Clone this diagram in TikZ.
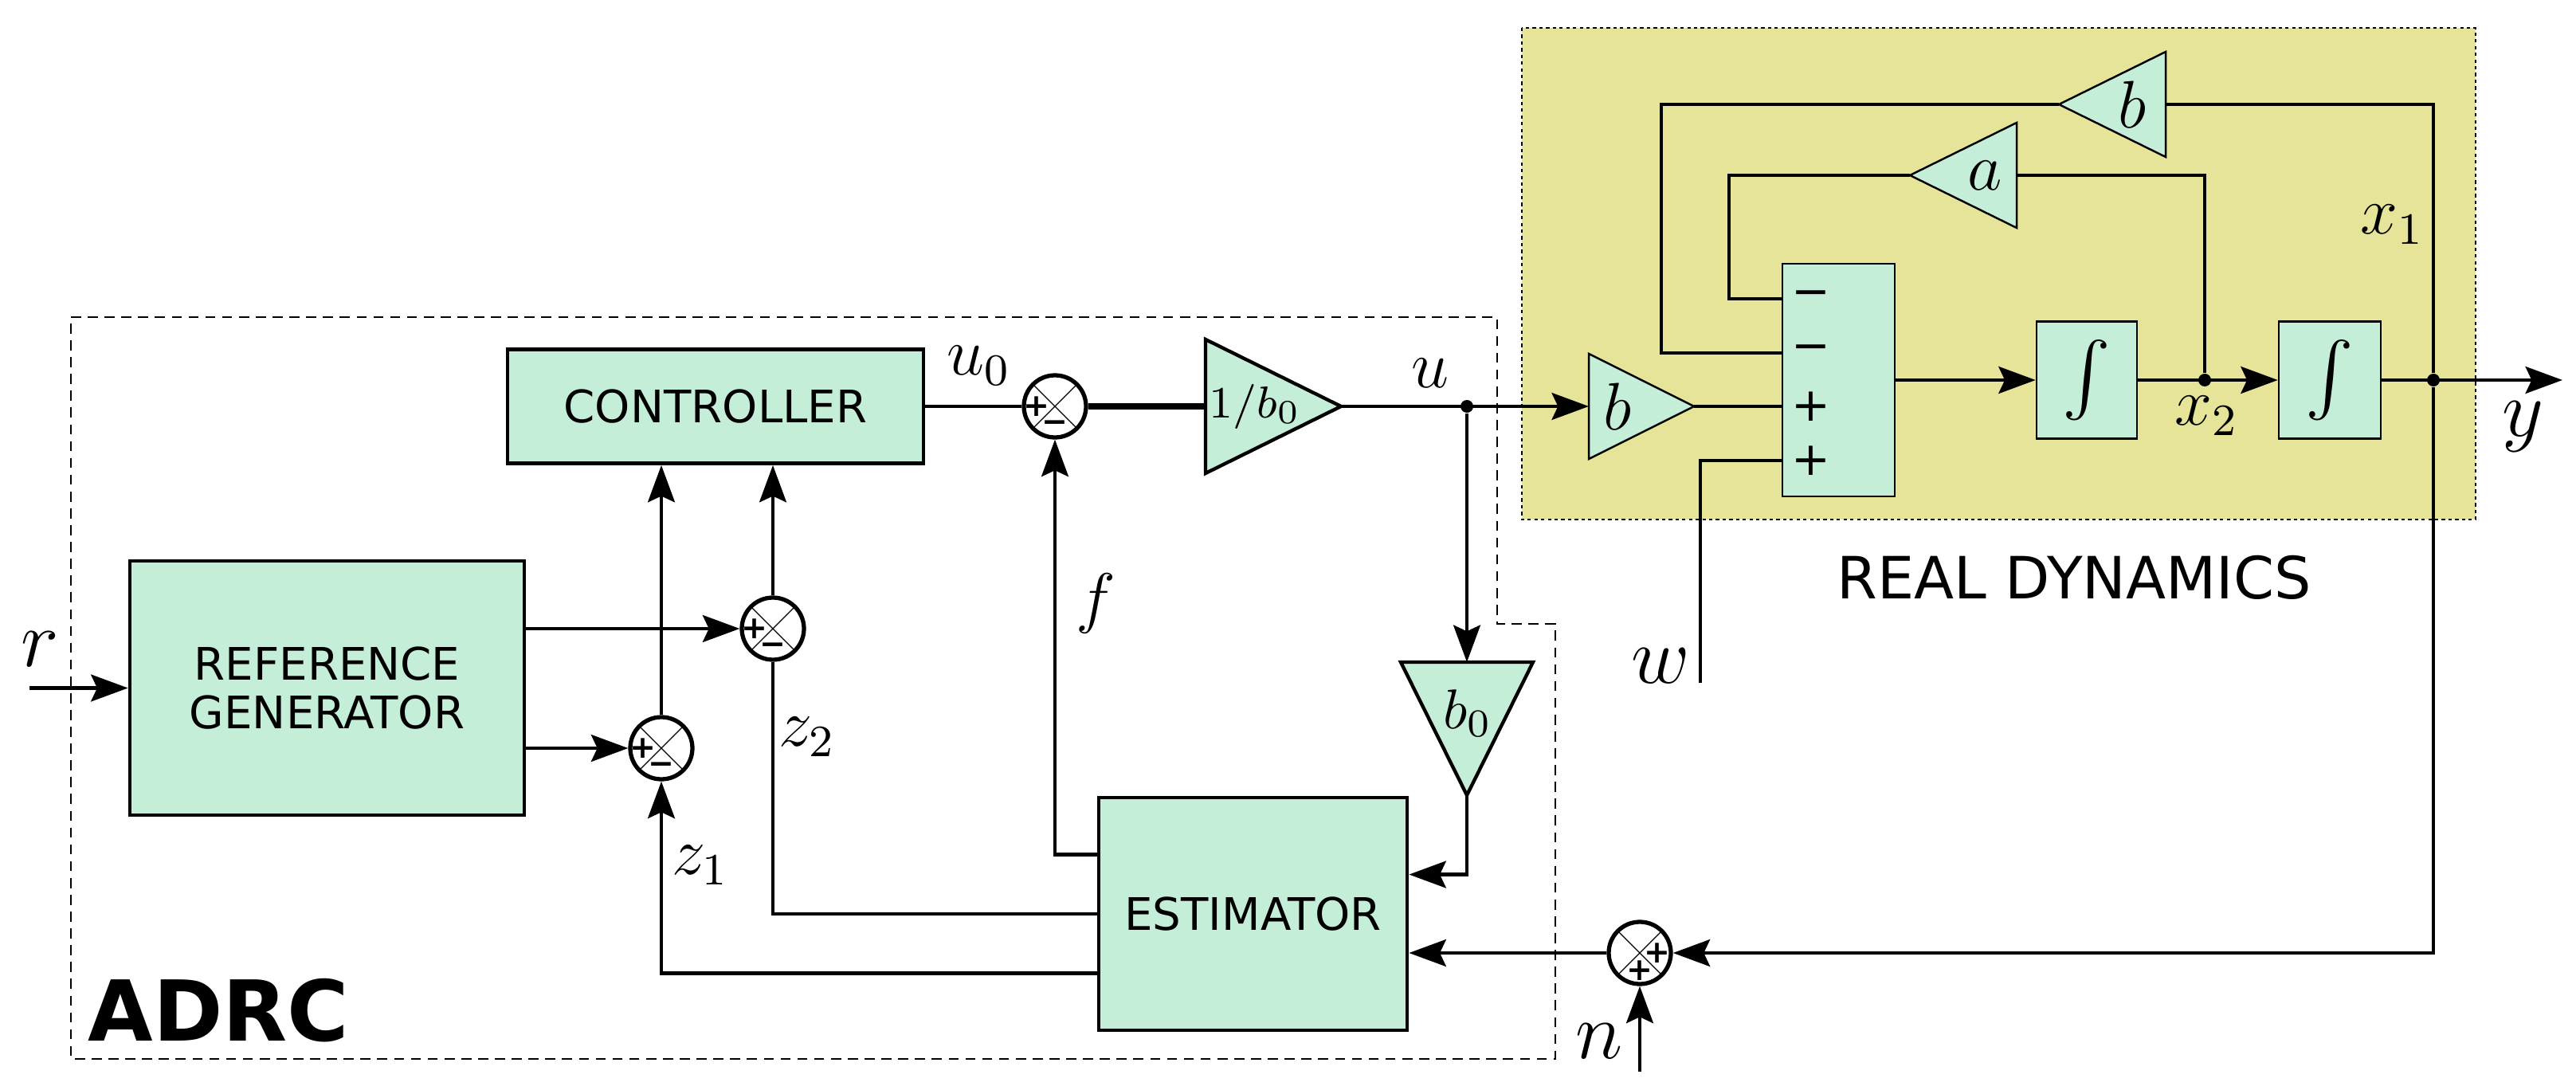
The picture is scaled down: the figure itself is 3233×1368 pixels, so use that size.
\documentclass[tikz,border=0pt]{standalone}
\usepackage{amsmath}
\usepackage{amssymb}
\usepackage{fontspec}
\setsansfont{DejaVu Sans}
\usepackage{xcolor}
\usetikzlibrary{arrows.meta,calc}
\definecolor{blkgreen}{RGB}{196,238,216}
\definecolor{plantyellow}{RGB}{230,228,152}
\tikzset{
  sig/.style={line width=0.67pt},
  arr/.style={sig,-{Stealth[length=6.6pt,width=4.8pt,inset=1.1pt]}},
  blk/.style={draw,line width=0.67pt,fill=blkgreen,inner sep=0pt,align=center,
    font=\sffamily\fontsize{8}{8.8}\selectfont},
  pblk/.style={blk,line width=0.35pt},
  gain/.style={draw,line width=0.62pt,fill=blkgreen,line join=miter},
  pgain/.style={gain,line width=0.35pt},
  sumc/.style={draw,circle,line width=0.75pt,fill=white,minimum size=3.9mm,inner sep=0pt,
    path picture={\draw[line width=0.17pt]
      (path picture bounding box.north west) -- (path picture bounding box.south east)
      (path picture bounding box.north east) -- (path picture bounding box.south west);}},
  sgn/.style={inner sep=0pt,font=\sffamily\bfseries\fontsize{5.6}{6}\selectfont},
  bigsgn/.style={inner sep=0pt,font=\sffamily\fontsize{8.3}{9}\selectfont},
  lab/.style={inner sep=0pt,font=\fontsize{12}{14}\selectfont},
  biglab/.style={inner sep=0pt,font=\fontsize{14}{16}\selectfont},
  dot/.style={circle,fill,inner sep=0pt,minimum size=0.8mm}
}
\begin{document}
\begin{tikzpicture}[x=0.05mm,y=-0.05mm]
      \useasboundingbox (0,0) rectangle (3233,1368);

      \draw[fill=plantyellow,line width=0.3pt,dash pattern=on 0.6pt off 0.6pt] (1910,35) rectangle (3107,652);
      \draw[line width=0.3pt,dash pattern=on 1.8pt off 1.2pt] (89,398) -- (1879,398) -- (1879,783)
        -- (1952,783) -- (1952,1329) -- (89,1329) -- cycle;

      \node[blk,minimum width=24.75mm,minimum height=15.95mm] (refgen) at (410.5,863.5) {REFERENCE\\GENERATOR};
      \node[blk,minimum width=26.1mm,minimum height=7.15mm] (ctrl) at (898,510) {CONTROLLER};
      \node[blk,minimum width=19.35mm,minimum height=14.6mm] (est) at (1572.5,1147) {ESTIMATOR};

      \node[sumc] (s1) at (830,939) {};
      \node[sumc] (s2) at (970,789) {};
      \node[sumc] (s3) at (1324,510) {};
      \node[sumc] (s4) at (2058,1196) {};
      \foreach \s in {s1,s2,s3} {
        \node[sgn] at ($(\s)+(-23,0)$) {+};
        \node[sgn] at ($(\s)+(0,25)$) {−};
      }
      \node[sgn] at ($(s4)+(22,0)$) {+};
      \node[sgn] at ($(s4)+(0,22)$) {+};

      \draw[gain] (1513,426) -- (1683,510) -- (1513,594) -- cycle;
      \coordinate (kinvin) at (1513,510);
      \coordinate (kinvout) at (1683,510);
      \node[lab,font=\fontsize{8.5}{10}\selectfont] (kinv) at (1575,510) {$1/b_0$};

      \draw[gain] (1758,831) -- (1924,831) -- (1841,998) -- cycle;
      \coordinate (kzin) at (1841,831);
      \coordinate (kzout) at (1841,998);
      \node[lab,font=\fontsize{10}{12}\selectfont] (kz) at (1842,895) {$b_0$};

      \node[pblk,minimum width=7.05mm,minimum height=14.6mm] (sigma) at (2307.5,477) {};
      \foreach \yy/\t in {375/−,443/−,510/+,578/+}
        \node[bigsgn] at (2273,\yy) {\t};
      \coordinate (row1) at (2237,375);
      \coordinate (row2) at (2237,443);
      \coordinate (row3) at (2237,510);
      \coordinate (row4) at (2237,578);
      \node[pblk,minimum width=6.3mm,minimum height=7.35mm,font=\fontsize{13}{15}\selectfont] (int1) at (2619,477) {$\int$};
      \node[pblk,minimum width=6.4mm,minimum height=7.35mm,font=\fontsize{13}{15}\selectfont] (int2) at (2924,477) {$\int$};

      \draw[pgain] (1994,444) -- (2126,510) -- (1994,576) -- cycle;
      \coordinate (kbin) at (1994,510);
      \coordinate (kbout) at (2126,510);
      \node[lab] (kb) at (2030,510) {$b$};
      \draw[pgain] (2531,154) -- (2397,220) -- (2531,286) -- cycle;
      \coordinate (kain) at (2531,220);
      \coordinate (kaout) at (2397,220);
      \node[lab] (ka) at (2491,220) {$a$};
      \draw[pgain] (2718,65) -- (2584,131) -- (2718,197) -- cycle;
      \coordinate (kbbin) at (2718,131);
      \coordinate (kbbout) at (2584,131);
      \node[lab] (kbb) at (2676,131) {$b$};

      \node[dot] (du) at (1841,510) {};
      \node[dot] (dx2) at (2767,477) {};
      \node[dot] (dx1) at (3054,477) {};
      \coordinate (rin) at (37,863.5);
      \coordinate (yout) at (3216,477);
      \coordinate (win) at (2134,857);
      \coordinate (nin) at (2058,1345);

      \draw[arr] (rin) -- (refgen.west);
      \draw[arr] (refgen.east |- s2) -- (s2.west);
      \draw[arr] (refgen.east |- s1) -- (s1.west);
      \draw[arr] (s1.north) -- (s1.north |- ctrl.south);
      \draw[arr] (s2.north) -- (s2.north |- ctrl.south);
      \draw[sig] (ctrl.east) -- (s3.west);
      \draw[line width=1.05pt] (s3.east) -- (kinvin);
      \draw[arr] (kinvout) -- (kbin);
      \draw[arr] (du) -- (kzin);
      \draw[arr] (kzout) |- ($(est.north east)!1/3!(est.south east)$);
      \draw[arr] (s4.west) -- (s4.west -| est.east);
      \draw[arr] ($(est.north west)!0.25!(est.south west)$) -| (s3.south);
      \draw[sig] (est.west) -| (s2.south);
      \draw[arr] ($(est.north west)!0.75!(est.south west)$) -| (s1.south);
      \draw[arr] (dx1) |- (s4.east);
      \draw[arr] (nin) -- (s4.south);

      \draw[sig] (kbout) -- (row3);
      \draw[arr] (sigma.east) -- (int1.west);
      \draw[arr] (int1.east) -- (int2.west);
      \draw[arr] (int2.east) -- (yout);
      \draw[sig] (dx2) |- (kain);
      \draw[sig] (kaout) -| (2170,375) -- (row1);
      \draw[sig] (kbbout) -| (2085,443) -- (row2);
      \draw[sig] (dx1) |- (kbbin);
      \draw[sig] (win) |- (row4);

      \node[biglab] (rlab) at (50,815) {$r$};
      \node[lab] (u0lab) at (1229,459) {$u_0$};
      \node[lab] (ulab) at (1795,468) {$u$};
      \node[lab] (flab) at (1375,757) {$f$};
      \node[lab] (z2lab) at (1013,925) {$z_2$};
      \node[lab] (z1lab) at (879,1086) {$z_1$};
      \node[biglab] (wlab) at (2084,836) {$w$};
      \node[biglab] (nlab) at (2007,1307) {$n$};
      \node[lab] (x1lab) at (3003,282) {$x_1$};
      \node[lab] (x2lab) at (2770,522) {$x_2$};
      \node[biglab] (ylab) at (3166,536) {$y$};

      \node[anchor=base west,inner sep=0pt,font=\sffamily\bfseries\fontsize{15}{18}\selectfont] (adrc) at (109,1306) {ADRC};
      \node[inner sep=0pt,font=\sffamily\fontsize{10.4}{12}\selectfont] (plantlab) at (2603,725) {REAL DYNAMICS};
    \end{tikzpicture}
\end{document}
